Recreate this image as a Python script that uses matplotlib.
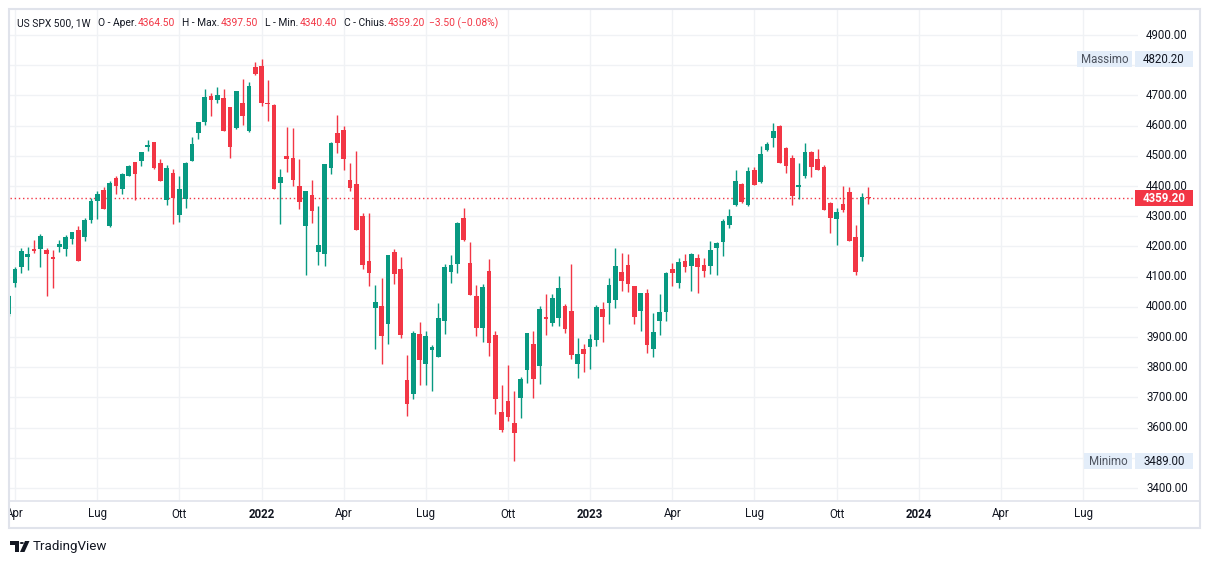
import numpy as np
import pandas as pd
import matplotlib
matplotlib.use("Agg")
import matplotlib.pyplot as plt
from matplotlib.patches import Rectangle, Polygon, Circle
from matplotlib.transforms import blended_transform_factory

plt.rcParams["font.family"] = ["Roboto", "DejaVu Sans"]

# weekly OHLC, first bar = week of 2021-03-29
first_week = "2021-03-29"
opens = [3975, 4080, 4133, 4166, 4191, 4191, 4188, 4165, 4199, 4191,
         4226, 4254, 4232, 4288, 4351, 4387, 4269, 4426, 4391, 4434,
         4479, 4484, 4530, 4546, 4476, 4355, 4443, 4305, 4358, 4484,
         4574, 4613, 4698, 4686, 4691, 4662, 4592, 4675, 4583, 4793,
         4797, 4676, 4668, 4411, 4499, 4493, 4400, 4269, 4370, 4183,
         4176, 4460, 4575, 4585, 4420, 4407, 4301, 4152, 3997, 4003,
         3944, 4181, 4125, 3758, 3712, 3910, 3812, 3858, 3835, 3954,
         4116, 4143, 4294, 4145, 4036, 3931, 4119, 3907, 3652, 3688,
         3615, 3699, 3792, 3877, 3805, 3966, 3947, 3964, 4003, 3986,
         3812, 3860, 3868, 3891, 3993, 4014, 4024, 4115, 4138, 4069,
         3987, 4046, 3861, 3954, 3984, 4125, 4080, 4152, 4136, 4162,
         4138, 4136, 4196, 4216, 4272, 4337, 4407, 4337, 4453, 4413,
         4519, 4560, 4599, 4526, 4493, 4397, 4434, 4512, 4489, 4463,
         4344, 4292, 4340, 4380, 4231, 4166, 4364.5]
highs = [4038, 4131, 4196, 4199, 4221, 4241, 4194, 4188, 4220, 4238,
         4249, 4267, 4293, 4359, 4384, 4397, 4417, 4432, 4442, 4470,
         4479, 4513, 4552, 4546, 4489, 4470, 4456, 4433, 4479, 4561,
         4612, 4721, 4708, 4728, 4721, 4662, 4715, 4754, 4744, 4811,
         4820.2, 4751, 4672, 4456, 4595, 4592, 4489, 4385, 4420, 4334,
         4473, 4546, 4635, 4599, 4476, 4516, 4311, 4311, 4072, 4095,
         4172, 4191, 4165, 3840, 3920, 3950, 3920, 3873, 4013, 4142,
         4172, 4281, 4327, 4215, 4072, 4076, 4158, 3920, 3741, 3807,
         3721, 3769, 3913, 3920, 4003, 4042, 4042, 4102, 4009, 4142,
         3897, 3877, 3910, 4006, 4016, 4095, 4195, 4178, 4175, 4069,
         4046, 4059, 3979, 4042, 4115, 4145, 4162, 4175, 4178, 4175,
         4161, 4218, 4215, 4291, 4324, 4453, 4410, 4463, 4463, 4532,
         4546, 4609, 4602, 4529, 4503, 4476, 4542, 4516, 4522, 4470,
         4347, 4327, 4400, 4397, 4271, 4377, 4397.5]
lows = [3970, 4067, 4113, 4122, 4179, 4133, 4037, 4063, 4183, 4169,
        4209, 4153, 4219, 4279, 4291, 4325, 4265, 4374, 4375, 4434,
        4355, 4467, 4517, 4456, 4418, 4336, 4275, 4282, 4328, 4483,
        4555, 4602, 4633, 4674, 4583, 4494, 4589, 4603, 4580, 4766,
        4666, 4616, 4391, 4275, 4447, 4401, 4324, 4106, 4279, 4139,
        4136, 4441, 4510, 4454, 4385, 4255, 4126, 4070, 3861, 3812,
        3878, 4077, 3898, 3640, 3696, 3742, 3742, 3722, 3835, 3911,
        4080, 4113, 4219, 4040, 3904, 3885, 3838, 3646, 3587, 3623,
        3489, 3633, 3749, 3699, 3745, 3908, 3937, 3937, 3914, 3828,
        3765, 3785, 3795, 3871, 3885, 3944, 3997, 4053, 4050, 3944,
        3921, 3848, 3835, 3908, 3954, 4070, 4063, 4116, 4053, 4047,
        4100, 4110, 4106, 4169, 4262, 4334, 4344, 4334, 4404, 4411,
        4517, 4530, 4477, 4444, 4338, 4358, 4427, 4431, 4454, 4322,
        4245, 4206, 4315, 4219, 4106, 4153, 4340.4]
closes = [4035, 4124, 4185, 4175, 4185, 4234, 4176, 4159, 4208, 4231,
          4248, 4153, 4287, 4350, 4373, 4325, 4410, 4401, 4440, 4466,
          4441, 4513, 4536, 4461, 4418, 4460, 4360, 4390, 4476, 4538,
          4612, 4695, 4686, 4701, 4583, 4530, 4715, 4633, 4731, 4772,
          4676, 4673, 4391, 4430, 4490, 4421, 4348, 4385, 4318, 4205,
          4473, 4542, 4542, 4491, 4394, 4255, 4139, 4113, 4016, 3904,
          4172, 4110, 3908, 3679, 3913, 3825, 3903, 3867, 3963, 4132,
          4139, 4279, 4222, 4040, 3931, 4066, 3881, 3696, 3593, 3636,
          3583, 3761, 3913, 3762, 3993, 3961, 4029, 4062, 3928, 3842,
          3844, 3845, 3893, 4000, 3967, 4072, 4135, 4087, 4077, 3967,
          4046, 3875, 3917, 3983, 4112, 4113, 4148, 4133, 4175, 4133,
          4120, 4188, 4211, 4284, 4301, 4418, 4347, 4450, 4404, 4506,
          4539, 4582, 4477, 4467, 4368, 4403, 4512, 4464, 4454, 4322,
          4295, 4314, 4322, 4219, 4116, 4362.7, 4359.2]

price_ticks = list(range(3400, 5000, 100))
month_names = {1: None, 4: "Apr", 7: "Lug", 10: "Ott"}
legend_parts = [("US SPX 500, 1W", False), ("O - Aper.", False), ("4364.50", True),
                ("H - Max.", False), ("4397.50", True), ("L - Min.", False),
                ("4340.40", True), ("C - Chius.", False), ("4359.20", True),
                ("\u22123.50 (\u22120.08%)", True)]
high_label, low_label = "Massimo", "Minimo"

GREEN = "#089981"
RED = "#f23645"
TXT = "#131722"
GRID = "#f0f2f5"
BORDER = "#e0e3eb"
W, H = 1209, 564


def fx(px):
    return px / W


def fy(py):
    return 1 - py / H


fig = plt.figure(figsize=(W / 100, H / 100), dpi=100)
fig.patch.set_facecolor("white")

# main pane: pixels x 10..1138, y 9..500
ax = fig.add_axes([fx(10), fy(500), fx(1128), (500 - 9) / H])
x0, step = 8.7, 6.32
ax.set_xlim((10 - x0) / step, (1138 - x0) / step)
ax.set_ylim(3360.3, 4986.1)
for s in ax.spines.values():
    s.set_visible(False)
ax.set_xticks([])
ax.set_yticks([])

o = np.array(opens, float)
h = np.array(highs, float)
l = np.array(lows, float)
c = np.array(closes, float)
idx = np.arange(len(o))
cols = np.where(c >= o, GREEN, RED)

# grid
weeks = pd.date_range(first_week, periods=190, freq="W-MON")
tick_pos, tick_lab = [], []
prev = None
for i, d in enumerate(weeks):
    key = (d.year, d.month)
    if d.month in month_names and key != prev and d.day <= 7:
        tick_pos.append(i)
        tick_lab.append(str(d.year) if d.month == 1 else month_names[d.month])
        prev = key
for p in tick_pos:
    ax.axvline(p, color=GRID, lw=1, zorder=0)
for p in price_ticks:
    ax.axhline(p, color=GRID, lw=1, zorder=0)

# candles
ax.vlines(idx, l, h, colors=cols, lw=1.0, zorder=2)
body = np.maximum(np.abs(c - o), 3)
ax.bar(idx, body, bottom=np.minimum(o, c), width=0.74, color=cols, lw=0, zorder=3)

last = c[-1]
ax.axhline(last, color=RED, lw=1, ls=(0, (1, 2)), zorder=1)

# price scale (labels hidden behind the high/low boxes are skipped)
tr = blended_transform_factory(fig.transFigure, ax.transData)
box_half = 16 / 0.302 / 2
covered = [h.max(), l.min()]
for p in price_ticks:
    if any(abs(p - q) < 2 * box_half for q in covered):
        continue
    fig.text(fx(1188), p, f"{p:.2f}", transform=tr, ha="right", va="center",
             fontsize=8.3, color=TXT, zorder=2)


def price_box(p, value, label=None, lab_w=0, fc="#e3edf9", tc=TXT, bold=False):
    fig.patches.append(Rectangle((fx(1135), p - box_half), fx(58), 2 * box_half, transform=tr,
                                 fc=fc, ec="none", zorder=5))
    fig.text(fx(1164), p, value, transform=tr, ha="center", va="center",
             fontsize=8.3, color=tc, fontweight="bold" if bold else "normal", zorder=6)
    if label:
        fig.patches.append(Rectangle((fx(1133 - lab_w), p - box_half), fx(lab_w - 1), 2 * box_half,
                                     transform=tr, fc=fc, ec="none", zorder=5))
        fig.text(fx(1133 - lab_w / 2), p, label, transform=tr, ha="center", va="center",
                 fontsize=8.3, color="#4c525e", zorder=6)


price_box(h.max(), f"{h.max():.2f}", high_label, 56)
price_box(l.min(), f"{l.min():.2f}", low_label, 49)
price_box(last, f"{last:.2f}", fc=RED, tc="white", bold=True)

# time scale strip, same width as the pane so labels are clipped at both ends
tax = fig.add_axes([fx(10), fy(528), fx(1128), 28 / H])
tax.set_xlim(ax.get_xlim())
tax.set_ylim(0, 1)
tax.axis("off")
for p, t in zip(tick_pos, tick_lab):
    tax.text(p, 0.5, t, ha="center", va="center", fontsize=8.3, color=TXT,
             fontweight="bold" if t.isdigit() else "normal", clip_on=True)

# frame lines
fig.add_artist(Rectangle((fx(9), fy(528)), fx(1191), (528 - 9) / H, transform=fig.transFigure,
                         fill=False, ec=BORDER, lw=1.5))
fig.add_artist(plt.Line2D([fx(9), fx(1200)], [fy(500.5), fy(500.5)], color=BORDER, lw=1.2))

# legend line, segments laid out one after another
renderer = fig.canvas.get_renderer()
xp = 17.0
for j, (t, red) in enumerate(legend_parts):
    txt = fig.text(fx(xp), fy(23), t, ha="left", va="center", fontsize=7.4,
                   color=RED if red else TXT)
    wpx = txt.get_window_extent(renderer).width
    nxt = legend_parts[j + 1][1] if j + 1 < len(legend_parts) else False
    if nxt and not red:
        gap = 1
    elif j + 1 == len(legend_parts) - 1:
        gap = 4
    else:
        gap = 7
    xp += wpx + gap

# TradingView logo
k = fig.transFigure
fig.add_artist(Polygon([(fx(10), fy(541)), (fx(19), fy(541)), (fx(19), fy(552)),
                        (fx(15), fy(552)), (fx(15), fy(545)), (fx(10), fy(545))],
                       closed=True, transform=k, fc=TXT, ec="none"))
fig.add_artist(Circle((fx(21.8), fy(543)), 2.1 / W, transform=k, fc=TXT, ec="none"))
fig.add_artist(Polygon([(fx(25), fy(541)), (fx(29.5), fy(541)), (fx(24.5), fy(552)),
                        (fx(20), fy(552))], closed=True, transform=k, fc=TXT, ec="none"))
fig.text(fx(33), fy(546.5), "TradingView", ha="left", va="center", fontsize=9.6, color=TXT)

fig.savefig("out.png", dpi=100, facecolor="white")
